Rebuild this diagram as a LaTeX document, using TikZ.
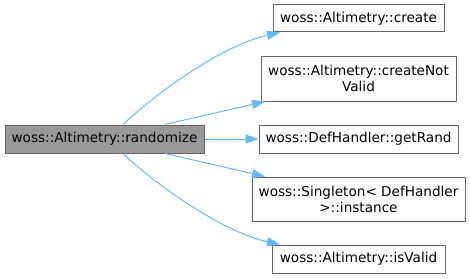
\documentclass[tikz,border=0pt]{standalone}
\usepackage{fontspec}
\setmainfont{DejaVu Sans}
\usetikzlibrary{arrows.meta,positioning}
\definecolor{callblue}{HTML}{63B8FF}
\definecolor{boxgray}{HTML}{666666}
\definecolor{curgray}{HTML}{999999}
\tikzset{
  fnbox/.style={rectangle, draw=boxgray, line width=1pt, fill=white, inner sep=2pt, align=center, font=\fontsize{13.6}{16}\selectfont},
  fncur/.style={fnbox, fill=curgray},
  calledge/.style={-{Triangle[length=13pt,width=9pt]}, line width=1pt, draw=callblue, color=callblue}
}
\begin{document}
\begin{tikzpicture}[x=1pt,y=-1pt]
  \useasboundingbox (0,0) rectangle (470,278);
  % caller
  \node[fncur, minimum width=199pt, minimum height=28pt] (rand) at (104.5,139) {woss::Altimetry::randomize};
  % callees
  \node[fnbox, minimum width=171pt, minimum height=27pt] (create) at (358.5,18.5) {woss::Altimetry::create};
  \node[fnbox, minimum width=195pt, minimum height=45pt] (notvalid) at (358.5,78.5) {woss::Altimetry::createNot\\Valid};
  \node[fnbox, minimum width=199pt, minimum height=28pt] (getrand) at (358.5,139) {woss::DefHandler::getRand};
  \node[fnbox, minimum width=213pt, minimum height=44pt] (single) at (358.5,199) {woss::Singleton< DefHandler\\>::instance};
  \node[fnbox, minimum width=173pt, minimum height=28pt] (isvalid) at (358.5,259) {woss::Altimetry::isValid};
  % calls
  \draw[calledge] ([xshift=18.5pt]rand.north) .. controls +(37,-35) and +(-55,12) .. ([xshift=-78.5pt]create.south);
  \draw[calledge] ([xshift=60.5pt]rand.north) -- ([xshift=-93.5pt]notvalid.south);
  \draw[calledge] (rand.east) -- (getrand.west);
  \draw[calledge] ([xshift=60.5pt]rand.south) -- ([xshift=-93.5pt]single.north);
  \draw[calledge] ([xshift=18.5pt]rand.south) .. controls +(37,35) and +(-55,-12) .. ([xshift=-78.5pt]isvalid.north);
\end{tikzpicture}
\end{document}
